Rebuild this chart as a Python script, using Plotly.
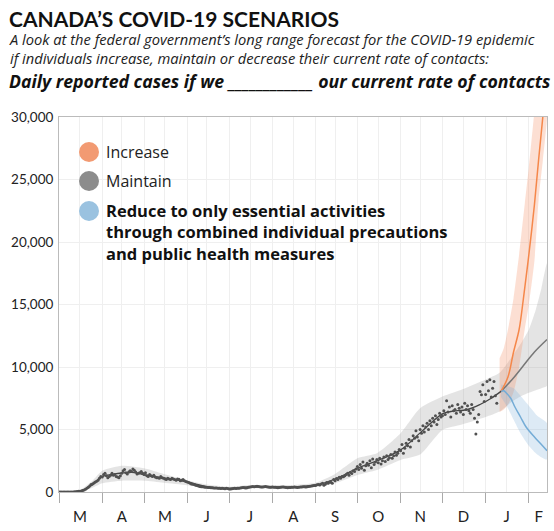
import plotly.graph_objects as go
import pandas as pd

# ---------------- data ----------------
# observed daily reported cases, one value per day starting 2020-03-01
cases_mar = [0,0,1,2,3,4,5,6,7,8,10,15,25,40,55,60,75,120,170,230,300,380,480,600,650,720,800,870,950,1100,1250]
cases_apr = [1200,1400,1500,1300,1150,1250,1350,1500,1350,1400,1250,1200,1150,1300,1500,1700,1800,1550,1450,1600,1700,1650,1850,1750,1600,1450,1500,1550,1650,1500]
cases_may = [1400,1550,1300,1250,1400,1300,1250,1350,1200,1150,1150,1100,1250,1150,1100,1050,1000,1100,1050,1000,1100,1050,1000,950,1050,1020,900,950,1000,900,850]
cases_jun = [800,760,700,650,620,600,550,520,480,450,430,420,400,390,380,370,360,350,340,330,320,330,310,300,290,300,280,270,300,280]
cases_jul = [250,240,260,280,300,290,300,310,330,350,360,350,330,340,380,400,420,440,430,450,460,440,420,410,400,430,450,420,400,380,390]
cases_aug = [400,390,380,360,350,370,390,400,410,380,360,350,360,370,380,390,400,380,370,390,400,410,420,430,400,420,450,470,480,500,520]
cases_sep = [520,580,610,560,640,700,540,620,760,700,810,780,700,1000,900,1080,1010,1180,1100,1250,1230,1300,1400,1500,1350,1560,1480,1700,1650,1850]
cases_oct = [2050,1800,2200,1900,2400,1750,2100,2300,2150,2500,1950,2650,2200,2400,2600,2350,2700,2250,2500,2800,2450,2900,2600,2750,3000,2700,2900,3200,2950,3100,3400]
cases_nov = [3300,3800,3100,3500,3900,3700,4200,3600,4100,4500,4300,4900,4400,4100,5000,4700,5300,4800,5200,5500,5000,5700,5300,5900,5600,6100,5400,5800,6300,6000]
cases_dec = [6100,6500,6200,7300,6400,6800,6000,6900,6500,6600,6300,7000,6700,6400,6800,6200,7100,6600,6900,6500,6300,7000,6600,5900,4650,5600,6200,8050,7780,8580,7240]
cases_jan = [7800,8850,8100,8980,7600,8300,8850,7700,7110]
obs_start = "2020-03-01"

# smoothed trend of observed cases
trend_dates = ["2020-03-01","2020-03-10","2020-03-17","2020-03-22","2020-03-27","2020-04-01","2020-04-08",
               "2020-04-15","2020-04-24","2020-05-01","2020-05-15","2020-06-01","2020-06-15","2020-07-01",
               "2020-07-15","2020-08-01","2020-08-15","2020-09-01","2020-09-15","2020-10-01","2020-10-15",
               "2020-11-01","2020-11-15","2020-12-01","2020-12-07","2020-12-19","2020-12-28","2021-01-05","2021-01-12"]
trend_vals = [0,10,100,350,750,1230,1400,1520,1560,1380,1120,800,430,280,400,420,400,560,1040,1900,2490,
              3370,4730,6250,6440,6600,7000,7500,8050]

# grey uncertainty band (observed + maintain)
band_dates = ["2020-03-01","2020-03-15","2020-03-25","2020-04-01","2020-04-15","2020-05-01","2020-05-15",
              "2020-06-01","2020-06-15","2020-07-01","2020-07-15","2020-08-01","2020-08-15","2020-09-01",
              "2020-09-15","2020-10-01","2020-10-15","2020-11-01","2020-11-15","2020-12-01","2020-12-15",
              "2021-01-01","2021-01-11","2021-01-20","2021-01-27","2021-02-01","2021-02-06","2021-02-10","2021-02-14"]
band_low = [0,20,350,700,900,900,750,550,330,200,300,300,300,420,700,1360,1760,2570,3000,4970,5400,
            6000,6440,7240,7700,7940,8150,8300,8500]
band_high = [0,100,900,1700,2100,1900,1450,950,600,420,560,560,560,750,1450,2700,3100,4700,6700,7640,8200,
             9000,9540,10850,12000,13000,14600,16300,18300]

# scenario: maintain
maint_dates = ["2021-01-12","2021-01-20","2021-01-28","2021-02-05","2021-02-14"]
maint_vals = [8050,9000,10100,11200,12200]

# scenario: increase
inc_dates = ["2021-01-12","2021-01-17","2021-01-21","2021-01-25","2021-01-28","2021-02-01","2021-02-05",
             "2021-02-08","2021-02-11","2021-02-14"]
inc_vals = [8050,9200,11200,13000,15400,19000,23000,26600,30000,33800]
inc_band_dates = ["2021-01-11","2021-01-14","2021-01-17","2021-01-21","2021-01-25","2021-01-29","2021-02-01",
                  "2021-02-05","2021-02-08","2021-02-11","2021-02-14"]
inc_low = [6400,6600,7000,8000,10000,13000,15000,18500,23400,26500,30000]
inc_high = [10700,11500,13000,15500,19000,23000,26000,30500,34000,37000,40000]

# scenario: reduce
red_dates = ["2021-01-12","2021-01-14","2021-01-16","2021-01-19","2021-01-22","2021-01-26","2021-01-30",
             "2021-02-05","2021-02-10","2021-02-14"]
red_vals = [8050,8100,7900,7500,6800,6000,5200,4400,3800,3300]
red_band_dates = ["2021-01-12","2021-01-16","2021-01-21","2021-01-26","2021-02-01","2021-02-07","2021-02-14"]
red_low = [7600,6900,5800,4700,3700,3000,2600]
red_high = [8600,8500,8300,7700,6900,6100,5500]

# axis ticks
month_starts = ["2020-03-01","2020-04-01","2020-05-01","2020-06-01","2020-07-01","2020-08-01","2020-09-01",
                "2020-10-01","2020-11-01","2020-12-01","2021-01-01","2021-02-01"]
mid_months = ["2020-03-16","2020-04-15","2020-05-16","2020-06-15","2020-07-16","2020-08-16","2020-09-15",
              "2020-10-16","2020-11-15","2020-12-16","2021-01-16"]
label_pos = ["2020-03-16","2020-04-15","2020-05-16","2020-06-15","2020-07-16","2020-08-16","2020-09-15",
             "2020-10-16","2020-11-15","2020-12-16","2021-01-16","2021-02-08"]
label_text = ["M","A","M","J","J","A","S","O","N","D","J","F"]
y_ticks = [0,5000,10000,15000,20000,25000,30000]
x_range = ["2020-03-01","2021-02-14"]

# ---------------- figure ----------------
cases = (cases_mar + cases_apr + cases_may + cases_jun + cases_jul + cases_aug + cases_sep +
         cases_oct + cases_nov + cases_dec + cases_jan)
obs_dates = pd.date_range(obs_start, periods=len(cases), freq="D")

FONT = "Lato"
FONT2 = "Open Sans"
fig = go.Figure()

def band(dates, low, high, color):
    return go.Scatter(x=list(dates) + list(dates)[::-1], y=list(high) + list(low)[::-1],
                      fill="toself", fillcolor=color, line=dict(width=0, shape="spline", smoothing=0.6),
                      mode="lines", hoverinfo="skip")

fig.add_trace(band(band_dates, band_low, band_high, "rgba(150,150,150,0.26)"))
fig.add_trace(band(inc_band_dates, inc_low, inc_high, "rgba(245,150,110,0.30)"))
fig.add_trace(band(red_band_dates, red_low, red_high, "rgba(120,170,215,0.25)"))

fig.add_trace(go.Scatter(x=maint_dates, y=maint_vals, mode="lines",
                         line=dict(color="#777777", width=1.5, shape="spline")))
fig.add_trace(go.Scatter(x=inc_dates, y=inc_vals, mode="lines",
                         line=dict(color="#f5874a", width=1.5, shape="spline")))
fig.add_trace(go.Scatter(x=red_dates, y=red_vals, mode="lines",
                         line=dict(color="#74acd6", width=1.5, shape="spline")))
fig.add_trace(go.Scatter(x=trend_dates, y=trend_vals, mode="lines",
                         line=dict(color="#444444", width=1.3, shape="spline")))
fig.add_trace(go.Scatter(x=obs_dates, y=cases, mode="markers", xaxis="x2",
                         marker=dict(color="#505050", size=3)))

grid = "#efefef"
fig.update_layout(
    width=554, height=531,
    margin=dict(l=59, r=7, t=117, b=39, autoexpand=False),
    plot_bgcolor="white", paper_bgcolor="white",
    showlegend=False, hovermode=False,
    font=dict(family=FONT, color="#222222"),
    xaxis=dict(type="date", range=x_range, tickmode="array", tickvals=month_starts, automargin=False,
               showticklabels=False, ticks="outside", ticklen=10, tickcolor="#aaaaaa", tickwidth=1,
               showgrid=True, gridcolor=grid, gridwidth=1,
               minor=dict(tickmode="array", tickvals=mid_months, showgrid=True, gridcolor=grid, ticks=""),
               showline=True, linecolor="#bbbbbb", linewidth=1, mirror=True, zeroline=False),
    xaxis2=dict(type="date", range=x_range, overlaying="x", anchor="y", side="bottom", automargin=False,
                tickmode="array", tickvals=label_pos, ticktext=label_text, ticks="",
                showgrid=False, showline=False, zeroline=False,
                tickfont=dict(family=FONT, size=15, color="#222222"), ticklabelstandoff=14),
    yaxis=dict(range=[0, 30000], tickmode="array", tickvals=y_ticks, tickformat=",", automargin=False,
               showgrid=True, gridcolor=grid, zeroline=False,
               showline=True, linecolor="#bbbbbb", linewidth=1, mirror=True, ticks="",
               tickfont=dict(family=FONT, size=13.5, color="#222222"), ticklabelstandoff=2),
)

def px_x(px):
    return (px - 59) / 488.0

def px_y(py):
    return (492 - py) / 375.0

ann = [
    dict(text="<b>CANADA’S COVID-19 SCENARIOS</b>", x=px_x(8), y=px_y(18),
         font=dict(family=FONT, size=21, color="#111111")),
    dict(text="<i>A look at the federal government’s long range forecast for the COVID-19 epidemic<br>"
              "if individuals increase, maintain or decrease their current rate of contacts:</i>",
         x=px_x(8), y=px_y(48), font=dict(family=FONT2, size=14.7, color="#222222")),
    dict(text="<b><i>Daily reported cases if we ____________ our current rate of contacts</i></b>",
         x=px_x(8), y=px_y(80.5), font=dict(family=FONT2, size=17.7, color="#111111")),
    dict(text="Increase", x=px_x(105), y=px_y(152), font=dict(family=FONT2, size=16, color="#222222")),
    dict(text="Maintain", x=px_x(105), y=px_y(181), font=dict(family=FONT2, size=16, color="#222222")),
    dict(text="<b>Reduce to only essential activities<br>through combined individual precautions<br>"
              "and public health measures</b>", x=px_x(105), y=px_y(232),
         font=dict(family=FONT2, size=16.5, color="#111111")),
]
for a in ann:
    fig.add_annotation(xref="paper", yref="paper", xanchor="left", yanchor="middle",
                       align="left", showarrow=False, borderpad=0, **a)

legend_cols = ["#f29a72", "#8c8c8c", "#9ac2e0"]
legend_y = [152, 181, 211]
for c, cy in zip(legend_cols, legend_y):
    fig.add_shape(type="circle", xref="paper", yref="paper",
                  x0=px_x(79), x1=px_x(99), y0=px_y(cy + 10), y1=px_y(cy - 10),
                  fillcolor=c, line=dict(width=0))

# remove the default 8px page margin so the figure fills the window exactly
fig.write_html("out.html", config={"displayModeBar": False},
               post_script="document.body.style.margin='0';")
